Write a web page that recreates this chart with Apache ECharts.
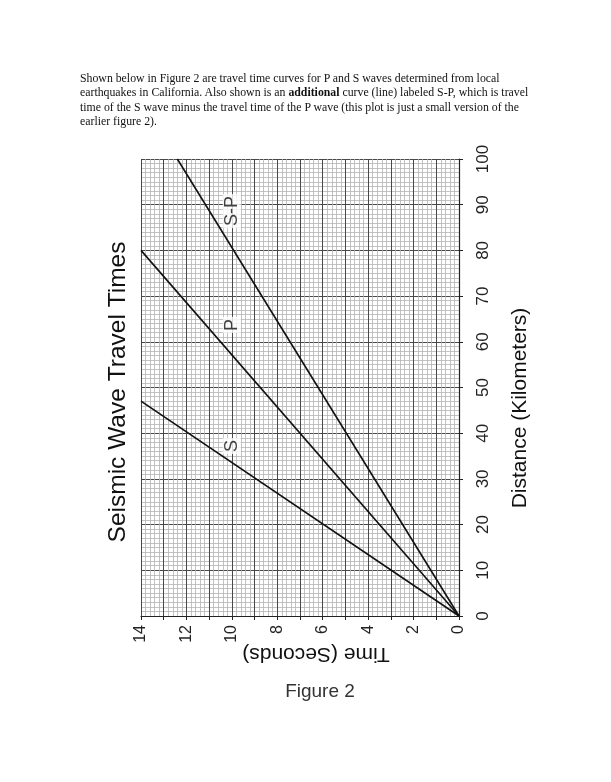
<!DOCTYPE html>
<html>
<head>
<meta charset="utf-8">
<script src="https://cdn.jsdelivr.net/npm/echarts@6/dist/echarts.min.js"></script>
<style>
html,body{margin:0;padding:0;background:#fff;}
#chart{position:absolute;left:0;top:0;width:611px;height:782px;}
#para{position:absolute;left:80px;top:71px;font-family:"Liberation Serif","DejaVu Serif",serif;font-size:11.8px;line-height:14.3px;color:#111;white-space:nowrap;}
</style>
</head>
<body>
<div id="chart"></div>
<div id="para">Shown below in Figure 2 are travel time curves for P and S waves determined from local<br>earthquakes in California. Also shown is an <b>additional</b> curve (line) labeled S-P, which is travel<br>time of the S wave minus the travel time of the P wave (this plot is just a small version of the<br>earlier figure 2).</div>
<script>
// Data (time in seconds, distance in km)
const sTime = [0, 14];
const sDist = [0, 47];
const pTime = [0, 14];
const pDist = [0, 80];
const spTime = [0, 12.4];
const spDist = [0, 100];
const curveLabels = ['S-P', 'P', 'S'];
const labelTime = [10, 10, 10];
const labelDist = [88.6, 63.7, 37.2];

const chart = echarts.init(document.getElementById('chart'));
const pairs = (a, b) => a.map((v, i) => [v, b[i]]);
const lineStyle = {color: '#111', width: 1.6};
const mkLine = (name, t, d) => ({
  name, type: 'line', data: pairs(t, d), symbol: 'none',
  lineStyle, silent: true, z: 3
});
const sans = 'Liberation Sans, Arial, sans-serif';

chart.setOption({
  animation: false,
  backgroundColor: '#fff',
  grid: {left: 141, right: 152, top: 159, bottom: 166},
  xAxis: {
    type: 'value', min: 0, max: 14, interval: 1, inverse: true,
    axisLine: {show: true, lineStyle: {color: '#222', width: 1.2}},
    axisTick: {show: true, length: 4, lineStyle: {color: '#222'}},
    axisLabel: {
      rotate: 90, margin: 9, fontSize: 16, color: '#222', fontFamily: sans,
      formatter: v => (v % 2 === 0 ? String(v) : '')
    },
    splitLine: {show: true, lineStyle: {color: '#484848', width: 1}},
    minorTick: {show: false, splitNumber: 5},
    minorSplitLine: {show: true, lineStyle: {color: '#b4b4b4', width: 0.8}}
  },
  yAxis: {
    type: 'value', min: 0, max: 100, interval: 10, position: 'right',
    axisLine: {show: true, lineStyle: {color: '#222', width: 1.2}},
    axisTick: {show: true, length: 4, lineStyle: {color: '#222'}},
    axisLabel: {rotate: 90, margin: 16, fontSize: 17, color: '#222', fontFamily: sans},
    splitLine: {show: true, lineStyle: {color: '#484848', width: 1}},
    minorTick: {show: false, splitNumber: 10},
    minorSplitLine: {show: true, lineStyle: {color: '#b4b4b4', width: 0.8}}
  },
  series: [
    mkLine('S', sTime, sDist),
    mkLine('P', pTime, pDist),
    mkLine('S-P', spTime, spDist),
    {
      type: 'scatter', symbolSize: 0, silent: true, z: 5,
      data: curveLabels.map((n, i) => ({name: n, value: [labelTime[i], labelDist[i]]})),
      label: {
        show: true, position: 'inside', rotate: 90, formatter: p => p.name,
        fontSize: 18, color: '#111', fontFamily: sans,
        backgroundColor: '#fff', padding: [0, 2]
      }
    }
  ],
  graphic: [
    {type: 'text', x: 118, y: 392, rotation: Math.PI / 2,
     style: {text: 'Seismic Wave Travel Times', fontSize: 24.5, fontFamily: sans, fill: '#111',
             textAlign: 'center', textVerticalAlign: 'middle'}},
    {type: 'text', x: 520, y: 408, rotation: Math.PI / 2,
     style: {text: 'Distance (Kilometers)', fontSize: 21, fontFamily: sans, fill: '#111',
             textAlign: 'center', textVerticalAlign: 'middle'}},
    {type: 'text', x: 316, y: 654, rotation: Math.PI,
     style: {text: 'Time (Seconds)', fontSize: 21, fontFamily: sans, fill: '#111',
             textAlign: 'center', textVerticalAlign: 'middle'}},
    {type: 'text', x: 320, y: 692,
     style: {text: 'Figure 2', fontSize: 19, fontFamily: sans, fill: '#333',
             textAlign: 'center', textVerticalAlign: 'middle'}}
  ]
});
</script>
</body>
</html>
